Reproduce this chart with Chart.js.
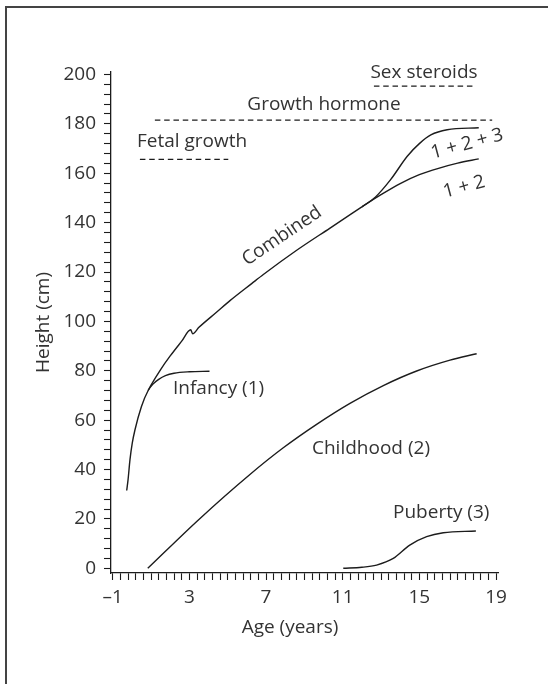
<!DOCTYPE html>
<html>
<head>
<meta charset="utf-8">
<script src="https://cdn.jsdelivr.net/npm/chart.js@4.4.1/dist/chart.umd.min.js"></script>
<style>
  html, body { margin: 0; padding: 0; background: #fff; }
  #wrap { position: relative; width: 548px; height: 684px; overflow: hidden; }
  #frame { position: absolute; left: 5px; top: 6px; width: 700px; height: 800px;
           border-left: 2px solid #444; border-top: 2px solid #444; }
  canvas { position: absolute; left: 0; top: 0; }
</style>
</head>
<body>
<div id="wrap">
  <div id="frame"></div>
  <canvas id="chart" width="548" height="684"></canvas>
</div>
<script>
// values (age in years, height in cm)
const infancyAge    = [-0.27, -0.2, -0.1, 0.02, 0.16, 0.5, 0.85, 1.1, 1.4, 1.75, 2.2, 3.0, 4.05];
const infancyHeight = [31.5, 35.8, 43.9, 50.7, 56.0, 65.5, 72.0, 74.6, 76.5, 78.0, 79.0, 79.6, 79.8];

const combinedAge    = [0.85, 1.0, 1.5, 2.0, 2.6, 3.07, 3.17, 3.5, 4.4, 5.12, 6.25, 6.86, 8.6, 10.34, 12.0];
const combinedHeight = [72.0, 74.2, 80.5, 86.0, 92.0, 96.6, 95.0, 97.6, 103.6, 108.4, 115.3, 119.0, 128.8, 137.8, 146.4];

const onePlusTwoAge    = [12.0, 13.0, 14.0, 15.0, 16.0, 17.0, 18.1];
const onePlusTwoHeight = [146.4, 151.3, 155.8, 159.4, 162.0, 164.1, 165.8];

const allThreeAge    = [12.0, 12.7, 13.5, 14.37, 15.0, 15.6, 16.45, 18.1];
const allThreeHeight = [146.4, 150.3, 157.4, 166.9, 172.0, 175.5, 177.6, 178.4];

const childhoodAge    = [0.83, 3.47, 6.16, 7.9, 9.64, 11.38, 13.12, 14.86, 16.6, 17.99];
const childhoodHeight = [0, 19.6, 38.0, 48.8, 58.3, 66.8, 74.0, 79.9, 84.3, 86.9];

const pubertyAge    = [11.03, 12.0, 12.77, 13.64, 14.5, 15.38, 16.25, 17.95];
const pubertyHeight = [0, 0.4, 1.3, 4.0, 9.4, 12.8, 14.4, 15.1];

// hormone periods (dashed bars): start age, end age, level
const fetalSpan  = [0.42, 5.03, 165.6];
const growthSpan = [1.2, 18.8, 181.5];
const sexSpan    = [12.63, 17.85, 195.3];

const xTickLabels = [-1, 3, 7, 11, 15, 19];
const yTickLabels = [0, 20, 40, 60, 80, 100, 120, 140, 160, 180, 200];
const xMinorStep = 0.4;
const yMinorStep = 4;

const INK = '#1c1c1c';
const TEXT = '#333';
const FONT = '"Open Sans", "Noto Sans", sans-serif';

function pts(xs, ys) {
  return xs.map((x, i) => ({ x: x, y: ys[i] }));
}
function curve(xs, ys) {
  return { data: pts(xs, ys), borderColor: INK, borderWidth: 1.4, showLine: true,
           pointRadius: 0, cubicInterpolationMode: 'monotone', fill: false };
}
function bar(span) {
  return { data: [{ x: span[0], y: span[2] }, { x: span[1], y: span[2] }], borderColor: INK,
           borderWidth: 1.3, borderDash: [5.5, 3.8], showLine: true, pointRadius: 0, fill: false };
}
function minorTicks(scale, first, last, step) {
  const out = [];
  const n = Math.round((last - first) / step);
  for (let i = 0; i <= n; i++) out.push({ value: +(first + i * step).toFixed(4) });
  scale.ticks = out;
}

// free text labels drawn on the chart
const notes = [
  { text: 'Sex steroids', x: 424, y: 77.5, align: 'center' },
  { text: 'Growth hormone', x: 324, y: 110, align: 'center' },
  { text: 'Fetal growth', x: 137, y: 146.5, align: 'left' },
  { text: 'Infancy (1)', x: 173, y: 394, align: 'left' },
  { text: 'Childhood (2)', x: 312, y: 454, align: 'left' },
  { text: 'Puberty (3)', x: 393, y: 518, align: 'left' },
  { text: 'Age (years)', x: 290, y: 633, align: 'center' },
  { text: 'Combined', x: 282, y: 236, align: 'center', rot: -34 },
  { text: '1 + 2 + 3', x: 467, y: 144, align: 'center', rot: -15 },
  { text: '1 + 2', x: 464, y: 187, align: 'center', rot: -15 }
];

const notesPlugin = {
  id: 'notes',
  afterDraw(chart) {
    const ctx = chart.ctx;
    ctx.save();
    ctx.fillStyle = TEXT;
    ctx.font = '19px ' + FONT;
    notes.forEach(n => {
      ctx.save();
      ctx.translate(n.x, n.y);
      if (n.rot) {
        ctx.rotate(n.rot * Math.PI / 180);
        ctx.textBaseline = 'middle';
      } else {
        ctx.textBaseline = 'alphabetic';
      }
      ctx.textAlign = n.align;
      ctx.fillText(n.text, 0, 0);
      ctx.restore();
    });
    ctx.restore();
  }
};

new Chart(document.getElementById('chart'), {
  type: 'scatter',
  data: {
    datasets: [
      curve(infancyAge, infancyHeight),
      curve(combinedAge, combinedHeight),
      curve(onePlusTwoAge, onePlusTwoHeight),
      curve(allThreeAge, allThreeHeight),
      curve(childhoodAge, childhoodHeight),
      curve(pubertyAge, pubertyHeight),
      bar(fetalSpan),
      bar(growthSpan),
      bar(sexSpan)
    ]
  },
  options: {
    responsive: false,
    animation: false,
    devicePixelRatio: 1,
    layout: { padding: { left: 0, top: 72, right: 50, bottom: 0 } },
    plugins: { legend: { display: false }, tooltip: { enabled: false } },
    scales: {
      x: {
        type: 'linear',
        min: -1.089,
        max: 19.104,
        afterFit: s => { s.height = 111; },
        afterBuildTicks: s => minorTicks(s, xTickLabels[0], xTickLabels[xTickLabels.length - 1], xMinorStep),
        border: { display: true, color: INK, width: 1.3 },
        grid: { drawOnChartArea: false, drawTicks: true, tickLength: 7, color: INK, tickWidth: 1.1 },
        ticks: {
          autoSkip: false,
          maxRotation: 0,
          padding: 6,
          color: TEXT,
          font: { family: FONT, size: 19 },
          callback: v => {
            const m = xTickLabels.find(t => Math.abs(t - v) < 1e-6);
            if (m === undefined) return '';
            return m < 0 ? '\u2013' + Math.abs(m) : String(m);
          }
        }
      },
      y: {
        type: 'linear',
        min: -1.9,
        max: 201,
        afterFit: s => { s.width = 111; },
        afterBuildTicks: s => minorTicks(s, yTickLabels[0], yTickLabels[yTickLabels.length - 1], yMinorStep),
        border: { display: true, color: INK, width: 1.3 },
        grid: { drawOnChartArea: false, drawTicks: true, tickLength: 7, color: INK, tickWidth: 1.1 },
        title: {
          display: true,
          text: 'Height (cm)',
          color: TEXT,
          font: { family: FONT, size: 19 },
          padding: { top: 32, bottom: 0 }
        },
        ticks: {
          autoSkip: false,
          padding: 8,
          color: TEXT,
          font: { family: FONT, size: 19 },
          callback: v => {
            const m = yTickLabels.find(t => Math.abs(t - v) < 1e-6);
            return m === undefined ? '' : String(m);
          }
        }
      }
    }
  },
  plugins: [notesPlugin]
});
</script>
</body>
</html>
